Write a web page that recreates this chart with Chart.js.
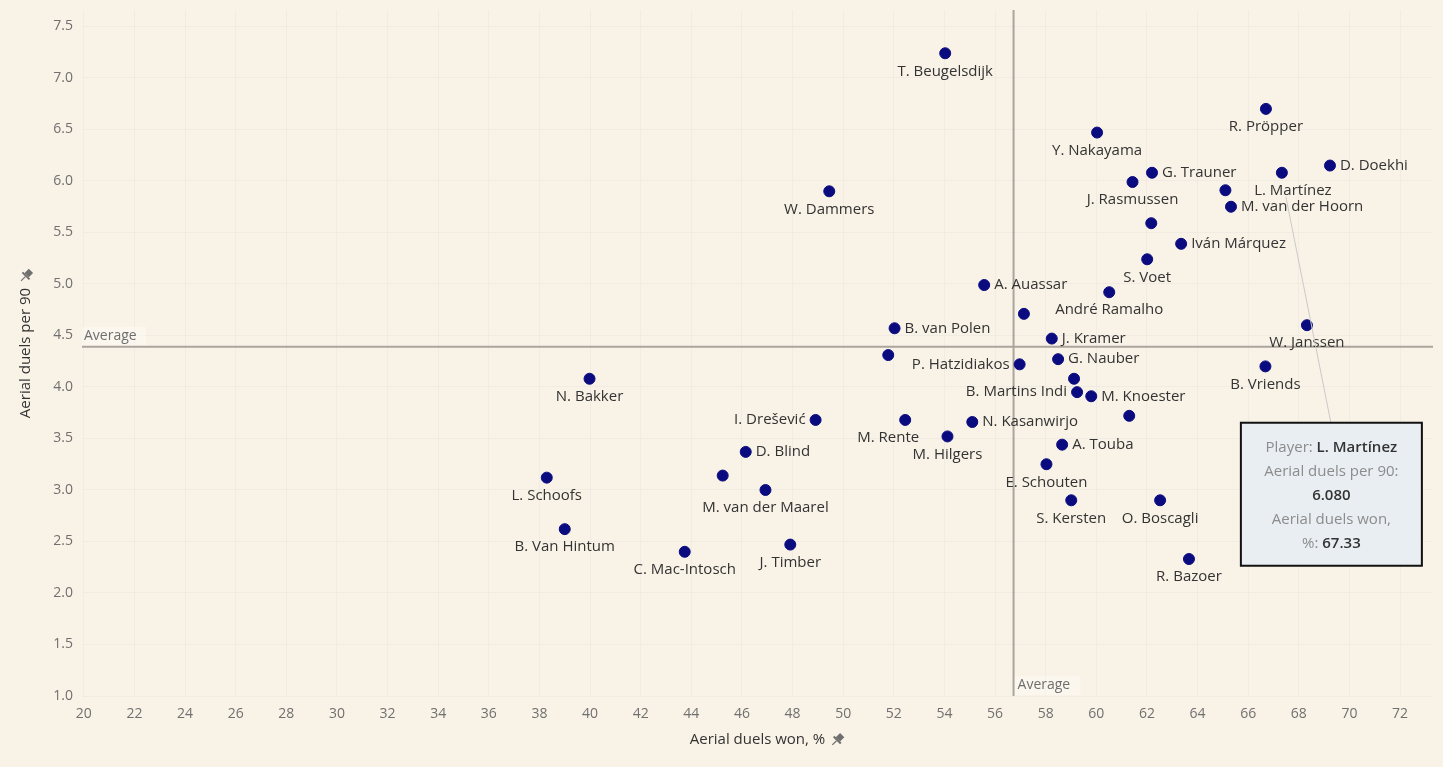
<!doctype html>
<html lang="en">
<head>
<meta charset="utf-8">
<title>Aerial duels</title>
<script src="https://cdn.jsdelivr.net/npm/chart.js@4.4.0/dist/chart.umd.min.js"></script>
<style>
  html, body { margin: 0; padding: 0; background: #f9f3e7; }
  #wrap { position: relative; width: 1443px; height: 767px; }
</style>
</head>
<body>
<div id="wrap"><canvas id="chart"></canvas></div>
<script>
    // data (null = point without a visible label)
    const players = ['T. Beugelsdijk', 'R. Pröpper', 'Y. Nakayama', 'G. Trauner', 'D. Doekhi', 'L. Martínez',
        'J. Rasmussen', null, 'M. van der Hoorn', 'W. Dammers', null, 'Iván Márquez', 'S. Voet', 'A. Auassar',
        'André Ramalho', null, 'B. van Polen', 'J. Kramer', 'W. Janssen', null, 'P. Hatzidiakos', 'G. Nauber',
        'B. Vriends', 'N. Bakker', null, 'B. Martins Indi', 'M. Knoester', null, 'I. Drešević', 'M. Rente',
        'N. Kasanwirjo', 'M. Hilgers', 'A. Touba', 'D. Blind', 'E. Schouten', 'L. Schoofs', null,
        'M. van der Maarel', 'S. Kersten', 'O. Boscagli', 'B. Van Hintum', 'C. Mac-Intosch', 'J. Timber', 'R. Bazoer'];
    const duelsWon = [54.03, 66.70, 60.03, 62.20, 69.23, 67.33,
        61.43, 65.10, 65.32, 49.45, 62.17, 63.35, 62.01, 55.57,
        60.51, 57.14, 52.03, 58.24, 68.32, 51.78, 56.97, 58.49,
        66.68, 39.98, 59.12, 59.24, 59.80, 61.30, 48.91, 52.45,
        55.10, 54.12, 58.65, 46.15, 58.03, 38.29, 45.24,
        46.93, 59.01, 62.52, 39.00, 43.74, 47.91, 63.66];
    const duelsPer90 = [7.24, 6.70, 6.47, 6.08, 6.15, 6.08,
        5.99, 5.91, 5.75, 5.90, 5.59, 5.39, 5.24, 4.99,
        4.92, 4.71, 4.57, 4.47, 4.60, 4.31, 4.22, 4.27,
        4.20, 4.08, 4.08, 3.95, 3.91, 3.72, 3.68, 3.68,
        3.66, 3.52, 3.44, 3.37, 3.25, 3.12, 3.14,
        3.00, 2.90, 2.90, 2.62, 2.40, 2.47, 2.33];
    const avgWon = 56.73;
    const avgPer90 = 4.39;
    const highlighted = 'L. Martínez';
    const xTickValues = [20, 22, 24, 26, 28, 30, 32, 34, 36, 38, 40, 42, 44, 46, 48, 50, 52, 54, 56, 58, 60, 62, 64, 66, 68, 70, 72];
    const yTickValues = [1.0, 1.5, 2.0, 2.5, 3.0, 3.5, 4.0, 4.5, 5.0, 5.5, 6.0, 6.5, 7.0, 7.5];

    // label placement (default is below the dot)
    const labelRight = ['G. Trauner', 'D. Doekhi', 'M. van der Hoorn', 'Iván Márquez', 'A. Auassar', 'B. van Polen',
        'J. Kramer', 'G. Nauber', 'M. Knoester', 'N. Kasanwirjo', 'A. Touba', 'D. Blind'];
    const labelLeft = ['P. Hatzidiakos', 'B. Martins Indi', 'I. Drešević'];
    const labelNudge = {'L. Martínez': 11, 'M. Rente': -17};

    const FONT = "'Open Sans', 'Noto Sans', sans-serif";
    const points = duelsWon.map((x, i) => ({x: x, y: duelsPer90[i]}));

    function drawPin(ctx, x, y) {
        ctx.save();
        ctx.translate(x, y);
        ctx.rotate(Math.PI / 4);
        ctx.fillStyle = '#6f6f6f';
        ctx.strokeStyle = '#6f6f6f';
        ctx.fillRect(-3, -7, 6, 6);
        ctx.fillRect(-5, -1, 10, 2);
        ctx.lineWidth = 1.2;
        ctx.beginPath();
        ctx.moveTo(0, 1);
        ctx.lineTo(0, 7);
        ctx.stroke();
        ctx.restore();
    }

    const averages = {
        id: 'averages',
        beforeDatasetsDraw(chart) {
            const {ctx, chartArea: a, scales: {x, y}} = chart;
            const px = x.getPixelForValue(avgWon);
            const py = y.getPixelForValue(avgPer90);
            ctx.save();
            ctx.font = '14px ' + FONT;
            ctx.textBaseline = 'middle';
            // label boxes
            ctx.fillStyle = 'rgba(255,255,255,0.35)';
            ctx.fillRect(a.left, py - 20, 64, 19);
            ctx.fillRect(px + 1, a.bottom - 20, 66, 19);
            ctx.strokeStyle = '#aaa59e';
            ctx.lineWidth = 2;
            ctx.beginPath();
            ctx.moveTo(a.left, py);
            ctx.lineTo(a.right, py);
            ctx.moveTo(px, a.top);
            ctx.lineTo(px, a.bottom);
            ctx.stroke();
            ctx.fillStyle = '#6e6e6e';
            ctx.textAlign = 'left';
            ctx.fillText('Average', a.left + 2, py - 11);
            ctx.fillText('Average', px + 4, a.bottom - 11);
            ctx.restore();
        }
    };

    const pointLabels = {
        id: 'pointLabels',
        afterDatasetsDraw(chart) {
            const {ctx} = chart;
            const meta = chart.getDatasetMeta(0);
            ctx.save();
            ctx.font = '15px ' + FONT;
            ctx.fillStyle = '#333333';
            ctx.textBaseline = 'middle';
            meta.data.forEach((pt, i) => {
                const name = players[i];
                if (!name) return;
                if (labelRight.includes(name)) {
                    ctx.textAlign = 'left';
                    ctx.fillText(name, pt.x + 10, pt.y);
                } else if (labelLeft.includes(name)) {
                    ctx.textAlign = 'right';
                    ctx.fillText(name, pt.x - 10, pt.y);
                } else {
                    ctx.textAlign = 'center';
                    ctx.fillText(name, pt.x + (labelNudge[name] || 0), pt.y + 18);
                }
            });
            ctx.restore();
        }
    };

    const callout = {
        id: 'callout',
        afterDraw(chart) {
            const {ctx} = chart;
            const i = players.indexOf(highlighted);
            const pt = chart.getDatasetMeta(0).data[i];
            const bx = pt.x - 41, by = pt.y + 250, bw = 181, bh = 143;
            ctx.save();
            ctx.strokeStyle = '#c9c9c9';
            ctx.lineWidth = 1;
            ctx.beginPath();
            ctx.moveTo(pt.x + 4, pt.y + 24);
            ctx.lineTo(pt.x + 49, by);
            ctx.stroke();
            ctx.fillStyle = '#e8eef1';
            ctx.fillRect(bx, by, bw, bh);
            ctx.strokeStyle = '#111';
            ctx.lineWidth = 2;
            ctx.strokeRect(bx, by, bw, bh);

            const cx = bx + bw / 2;
            const lines = [
                [['Player: ', false], [highlighted, true]],
                [['Aerial duels per 90:', false]],
                [[duelsPer90[i].toFixed(3), true]],
                [['Aerial duels won,', false]],
                [['%: ', false], [duelsWon[i].toFixed(2), true]]
            ];
            ctx.textBaseline = 'middle';
            ctx.textAlign = 'left';
            lines.forEach((parts, k) => {
                const ly = by + 25 + k * 24;
                let w = 0;
                parts.forEach(([t, b]) => {
                    ctx.font = (b ? '600 ' : '') + '15px ' + FONT;
                    w += ctx.measureText(t).width;
                });
                let lx = cx - w / 2;
                parts.forEach(([t, b]) => {
                    ctx.font = (b ? '600 ' : '') + '15px ' + FONT;
                    ctx.fillStyle = b ? '#333333' : '#8c8c8c';
                    ctx.fillText(t, lx, ly);
                    lx += ctx.measureText(t).width;
                });
            });

            // pins next to axis titles
            const {chartArea: a} = chart;
            ctx.font = '15px ' + FONT;
            const xw = ctx.measureText('Aerial duels won, %').width;
            drawPin(ctx, (a.left + a.right) / 2 + xw / 2 + 12, 740);
            const yw = ctx.measureText('Aerial duels per 90').width;
            drawPin(ctx, 26, (a.top + a.bottom) / 2 - yw / 2 - 12);
            ctx.restore();
        }
    };

    new Chart(document.getElementById('chart'), {
        type: 'scatter',
        data: {
            datasets: [{
                data: points,
                backgroundColor: '#0b0b80',
                borderColor: '#0b0b80',
                pointRadius: 5.5,
                pointHoverRadius: 5.5
            }]
        },
        options: {
            responsive: true,
            maintainAspectRatio: false,
            animation: false,
            layout: {padding: {top: 10, right: 10, left: 0, bottom: 0}},
            plugins: {legend: {display: false}, tooltip: {enabled: false}},
            scales: {
                x: {
                    min: 19.93, max: 73.3,
                    afterBuildTicks: s => { s.ticks = xTickValues.map(v => ({value: v})); },
                    afterFit: s => { s.height = 71; s.paddingLeft = 0; s.paddingRight = 0; },
                    border: {display: false},
                    grid: {color: '#f1ece3', lineWidth: 1, drawTicks: false},
                    ticks: {padding: 10, color: '#707070', font: {size: 14, family: FONT},
                        maxRotation: 0, autoSkip: false,
                        callback: v => v},
                    title: {display: true, text: 'Aerial duels won, %', color: '#333333',
                        font: {size: 15, family: FONT}, padding: {top: 0, bottom: 18}}
                },
                y: {
                    min: 1.0, max: 7.66,
                    afterBuildTicks: s => { s.ticks = yTickValues.map(v => ({value: v})); },
                    afterFit: s => { s.width = 82; s.paddingTop = 0; s.paddingBottom = 0; },
                    border: {display: false},
                    grid: {color: '#f1ece3', lineWidth: 1, drawTicks: false},
                    ticks: {padding: 9, color: '#707070', font: {size: 14, family: FONT}, autoSkip: false,
                        callback: v => Number(v).toFixed(1)},
                    title: {display: true, text: 'Aerial duels per 90', color: '#333333',
                        font: {size: 15, family: FONT}, padding: {top: 17, bottom: 0}}
                }
            }
        },
        plugins: [averages, pointLabels, callout]
    });
</script>
</body>
</html>
